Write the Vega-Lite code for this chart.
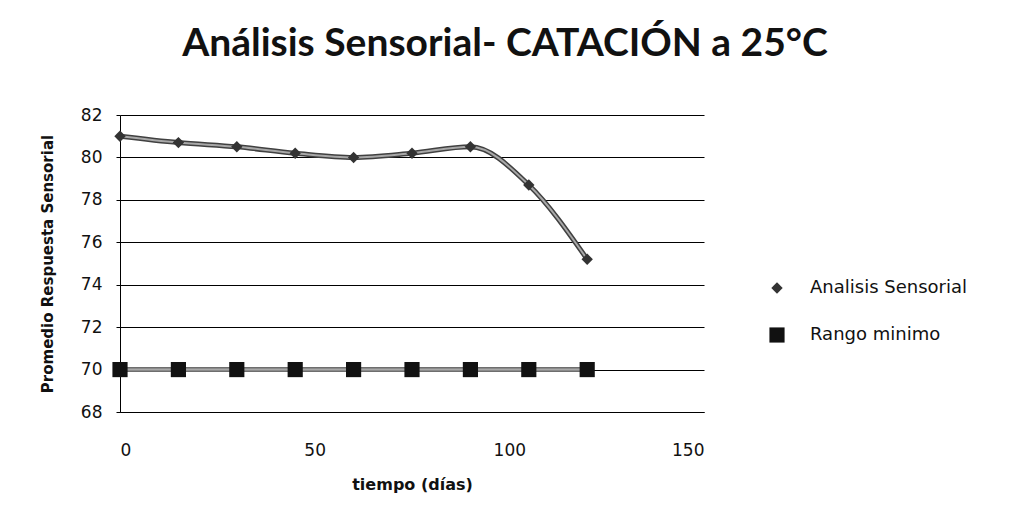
{
  "$schema": "https://vega.github.io/schema/vega-lite/v6.json",
  "autosize": "none",
  "width": 584,
  "height": 297,
  "padding": {"left": 120, "top": 115, "right": 310, "bottom": 120},
  "background": "white",
  "title": {
    "text": "Análisis Sensorial- CATACIÓN a 25°C",
    "font": "Lato",
    "fontSize": 39,
    "fontWeight": "bold",
    "color": "#111",
    "anchor": "middle",
    "dx": 93,
    "offset": 42
  },
  "data": {
    "values": [
      {"dia": 0, "serie": "Analisis Sensorial", "valor": 81.0},
      {"dia": 15, "serie": "Analisis Sensorial", "valor": 80.7},
      {"dia": 30, "serie": "Analisis Sensorial", "valor": 80.5},
      {"dia": 45, "serie": "Analisis Sensorial", "valor": 80.2},
      {"dia": 60, "serie": "Analisis Sensorial", "valor": 80.0},
      {"dia": 75, "serie": "Analisis Sensorial", "valor": 80.2},
      {"dia": 90, "serie": "Analisis Sensorial", "valor": 80.5},
      {"dia": 105, "serie": "Analisis Sensorial", "valor": 78.7},
      {"dia": 120, "serie": "Analisis Sensorial", "valor": 75.2},
      {"dia": 0, "serie": "Rango minimo", "valor": 70},
      {"dia": 15, "serie": "Rango minimo", "valor": 70},
      {"dia": 30, "serie": "Rango minimo", "valor": 70},
      {"dia": 45, "serie": "Rango minimo", "valor": 70},
      {"dia": 60, "serie": "Rango minimo", "valor": 70},
      {"dia": 75, "serie": "Rango minimo", "valor": 70},
      {"dia": 90, "serie": "Rango minimo", "valor": 70},
      {"dia": 105, "serie": "Rango minimo", "valor": 70},
      {"dia": 120, "serie": "Rango minimo", "valor": 70}
    ]
  },
  "encoding": {
    "x": {
      "field": "dia",
      "type": "quantitative",
      "scale": {"domain": [0, 150], "nice": false},
      "axis": {
        "title": "tiempo (días)",
        "values": [0, 50, 100, 150],
        "grid": false,
        "ticks": false,
        "domain": true,
        "domainColor": "#000",
        "labelFont": "DejaVu Sans",
        "labelFontSize": 17,
        "labelColor": "#111",
        "labelPadding": 30,
        "titleFont": "DejaVu Sans",
        "titleFontSize": 16,
        "titleFontWeight": "bold",
        "titleColor": "#111",
        "titlePadding": 18
      }
    },
    "y": {
      "field": "valor",
      "type": "quantitative",
      "scale": {"domain": [68, 82], "nice": false, "zero": false},
      "axis": {
        "title": "Promedio Respuesta Sensorial",
        "values": [68, 70, 72, 74, 76, 78, 80, 82],
        "grid": true,
        "gridColor": "#000",
        "gridOpacity": 1,
        "gridWidth": 1.2,
        "domainColor": "#000",
        "tickColor": "#000",
        "tickSize": 4,
        "labelFont": "DejaVu Sans",
        "labelFontSize": 17,
        "labelColor": "#111",
        "labelPadding": 14,
        "titleFont": "DejaVu Sans",
        "titleFontSize": 15,
        "titleFontWeight": "bold",
        "titleColor": "#111",
        "titlePadding": 25
      }
    }
  },
  "layer": [
    {
      "transform": [{"filter": "datum.serie === 'Analisis Sensorial'"}],
      "mark": {"type": "line", "interpolate": "monotone", "strokeWidth": 5, "color": "#404040"},
      "encoding": {}
    },
    {
      "transform": [{"filter": "datum.serie === 'Rango minimo'"}],
      "mark": {"type": "line", "interpolate": "monotone", "strokeWidth": 5, "color": "#6e6e6e"},
      "encoding": {}
    },
    {
      "mark": {"type": "line", "interpolate": "monotone", "strokeWidth": 2, "color": "#a8a8a8"},
      "encoding": {
        "detail": {"field": "serie", "type": "nominal"}
      }
    },
    {
      "mark": {"type": "point", "filled": true, "opacity": 1, "strokeWidth": 0},
      "encoding": {
        "shape": {
          "field": "serie",
          "type": "nominal",
          "scale": {"domain": ["Analisis Sensorial", "Rango minimo"], "range": ["diamond", "square"]},
          "legend": {
            "title": null,
            "orient": "none",
            "legendX": 632,
            "legendY": 164,
            "labelFont": "DejaVu Sans",
            "labelFontSize": 18,
            "labelColor": "#111",
            "rowPadding": 29,
            "labelOffset": 24,
            "symbolStrokeWidth": 0,
            "symbolOffset": 16
          }
        },
        "fill": {
          "field": "serie",
          "type": "nominal",
          "scale": {"domain": ["Analisis Sensorial", "Rango minimo"], "range": ["#333333", "#111111"]}
        },
        "size": {
          "field": "serie",
          "type": "nominal",
          "scale": {"domain": ["Analisis Sensorial", "Rango minimo"], "range": [130, 230]}
        }
      }
    }
  ],
  "config": {
    "view": {"stroke": null}
  }
}
